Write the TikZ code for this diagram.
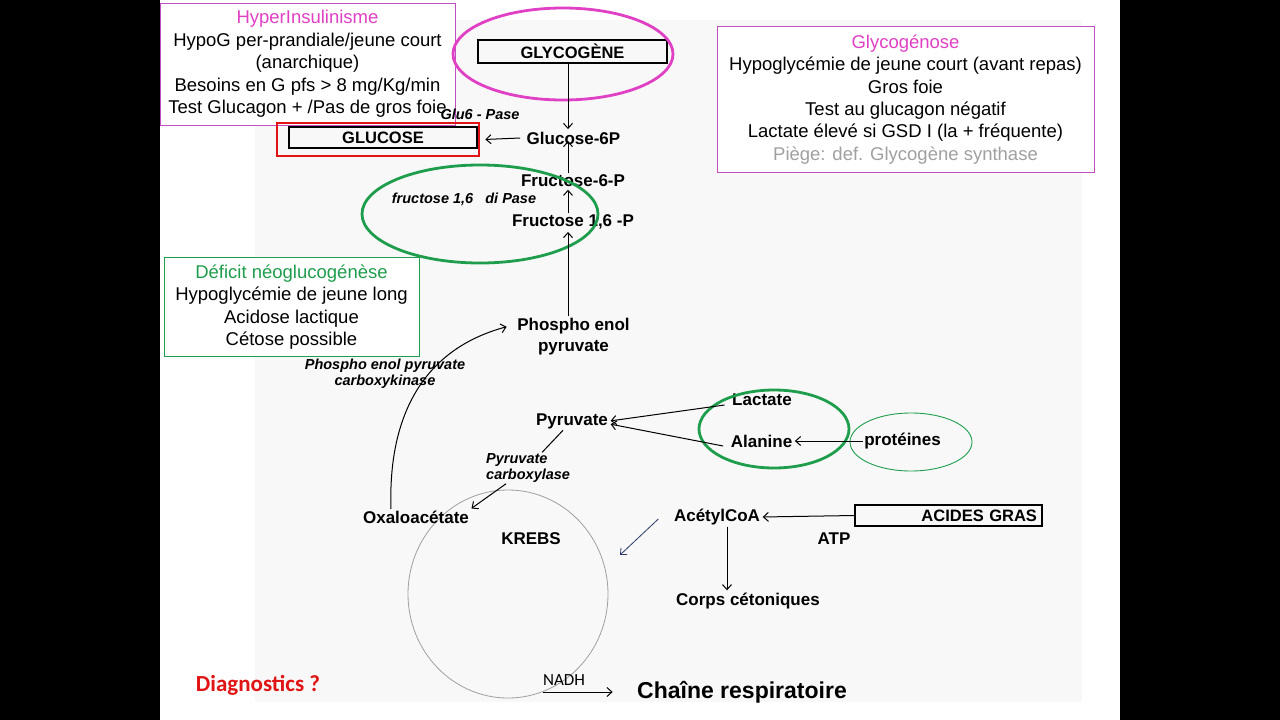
\documentclass[tikz,border=0pt]{standalone}
\usepackage{fontspec}
\setmainfont{Liberation Sans}
\newfontfamily\calibri{Carlito}
\usepackage{xcolor}
\usepackage{tikz}
\usetikzlibrary{arrows.meta}

\begin{document}
\begin{tikzpicture}[x=1pt, y=-1pt,
  encadre/.style={draw, fill=white, line width=0.8pt, align=center, inner sep=0pt,
    font=\fontsize{18.5}{22.4}\selectfont},
  scan/.style={font=\bfseries\fontsize{17}{21}\selectfont, inner sep=1.5pt, align=center},
  enzyme/.style={font=\bfseries\itshape\fontsize{14.5}{16}\selectfont, inner sep=1pt},
  boite/.style={draw, line width=1.3pt, inner sep=0pt, font=\bfseries\fontsize{16.5}{20}\selectfont},
  fleche/.style={-{Straight Barb[length=5pt, width=9pt]}, line width=1pt, shorten >=1pt},
]

% Couleurs
\definecolor{colMag}{HTML}{E040C4}
\definecolor{colBordMag}{HTML}{C24FC2}
\definecolor{colVert}{HTML}{1E9E4C}
\definecolor{colRouge}{HTML}{E01414}
\definecolor{colPiege}{HTML}{A0A0A0}
\definecolor{colScan}{HTML}{F8F8F8}
\definecolor{colKrebs}{HTML}{A0A0A0}
\definecolor{colBleu}{HTML}{2B3A67}

% Epaisseur des ellipses
\def\ep{2.8pt}

% Fond : bandes noires, diapo, scan
\useasboundingbox (0,0) rectangle (1280,720);
\fill[black] (0,0) rectangle (160,720);
\fill[black] (1120,0) rectangle (1280,720);
\fill[white] (160,0) rectangle (1120,720);
\fill[colScan] (255,20) rectangle (1082,702);

% Cycle de Krebs
\draw[colKrebs, line width=0.8pt] (508,594) ellipse [x radius=100pt, y radius=104pt];

% Encadres
\node[encadre, draw=colBordMag, minimum width=295pt, minimum height=122pt] (hyper) at (307.5,64)
  {\textcolor{colMag}{HyperInsulinisme}\\HypoG per-prandiale/jeune court\\(anarchique)\\Besoins en G pfs > 8 mg/Kg/min\\Test Glucagon + /Pas de gros foie};
\node[encadre, draw=colBordMag, minimum width=377pt, minimum height=146pt] (glycogenose) at (905.5,99.5)
  {\textcolor{colMag}{Glycogénose}\\Hypoglycémie de jeune court (avant repas)\\Gros foie\\Test au glucagon négatif\\Lactate élevé si GSD I (la + fréquente)\\\textcolor{colPiege}{Piège: def. Glycogène synthase}};
\node[encadre, draw=colVert, minimum width=255pt, minimum height=99pt] (deficit) at (291.5,307)
  {\textcolor{colVert}{Déficit néoglucogénèse}\\Hypoglycémie de jeune long\\Acidose lactique\\Cétose possible};

% Metabolites
\node[boite, minimum width=189pt, minimum height=23pt] (glycogene) at (572.5,51.5) {GLYCOGÈNE};
\node[boite, minimum width=188pt, minimum height=21pt] (glucose) at (383,137.5) {GLUCOSE};
\node[draw=colRouge, line width=2.6pt, minimum width=202pt, minimum height=33pt, inner sep=0pt] (cadreGlucose) at (378,139.5) {};
\node[scan] (g6p) at (573.5,138) {Glucose-6P};
\node[scan] (f6p) at (573,181) {Fructose-6-P};
\node[scan] (f16p) at (573,222) {Fructose 1,6 -P};
\node[scan] (pep) at (573.5,336.5) {Phospho enol\\pyruvate};
\node[scan] (pyr) at (572,421) {Pyruvate};
\node[scan] (lac) at (762,400) {Lactate};
\node[scan] (ala) at (761.5,441) {Alanine};
\node[scan] (prot) at (902.5,441) {protéines};
\node[scan] (oxa) at (416,517) {Oxaloacétate};
\node[scan] (krebs) at (531,539) {KREBS};
\node[scan] (acetyl) at (717,517) {AcétylCoA};
\node[scan] (atp) at (834,539) {ATP};
\node[scan] (corps) at (748,601) {Corps cétoniques};
\node[boite, text width=177pt, align=right, inner xsep=5pt, minimum height=21pt] (acides) at (948.5,515.5) {ACIDES GRAS};

% Enzymes
\node[enzyme] (glu6pase) at (480,114) {Glu6 - Pase};
\node[enzyme] (fdpase) at (464,199) {fructose 1,6~~~di Pase};
\node[enzyme, align=center] (pepck) at (385,374) {Phospho enol pyruvate\\carboxykinase};
\node[enzyme, align=left, anchor=west] (pc) at (485,468) {Pyruvate\\carboxylase};

% Bas de page
\node[font=\calibri\bfseries\fontsize{23}{26}\selectfont, text=colRouge] (diag) at (258,685) {Diagnostics ?};
\node[font=\calibri\fontsize{17}{20}\selectfont, inner sep=0pt] (nadh) at (564,680) {NADH};
\node[font=\bfseries\fontsize{23}{26}\selectfont] (chaine) at (742,692) {Chaîne respiratoire};

% Ellipses
\draw[colMag, line width=\ep] (563,54) ellipse [x radius=110pt, y radius=46pt];
\draw[colVert, line width=\ep] (480,214) ellipse [x radius=118pt, y radius=49pt];
\draw[colVert, line width=\ep] (774,429) ellipse [x radius=75pt, y radius=39pt];
\draw[colVert, line width=0.9pt] (911,442) ellipse [x radius=61pt, y radius=29pt];

% Fleches
\draw[fleche] ([xshift=-4.5pt]glycogene.south) -- ([xshift=-5.5pt]g6p.north);
\draw[fleche] ([xshift=-5pt]g6p.west) -- ([xshift=4pt]cadreGlucose.east);
\draw[fleche] ([xshift=-5pt]f6p.north) -- ([xshift=-5.5pt, yshift=6pt]g6p.south);
\draw[fleche] ([xshift=-5pt]f16p.north) -- ([xshift=-5pt]f6p.south);
\draw[fleche] ([xshift=-5.5pt]pep.north) -- ([xshift=-5pt]f16p.south);
\draw[fleche] ([xshift=-25pt]oxa.north) .. controls (388,420) and (420,350) .. ([shift={(-8,-10)}]pep.west);
\draw[line width=1pt] ([xshift=-9pt]pyr.south) -- ([xshift=14pt]pc.north);
\draw[fleche] ([xshift=-22pt]pc.south) -- (oxa.north east);
\draw[fleche] ([shift={(-6,5)}]lac.west) -- (pyr.east);
\draw[fleche] ([shift={(-6,5)}]ala.west) -- ([shift={(0,3)}]pyr.east);
\draw[fleche] (prot.west) -- (ala.east);
\draw[fleche] (acides.west) -- (acetyl.east);
\draw[fleche] ([xshift=10pt]acetyl.south) -- ([xshift=-21pt]corps.north);
\coordinate (versKrebs) at (620,555);
\draw[-{Straight Barb[length=5pt, width=9pt]}, colBleu, line width=0.8pt] ([shift={(-14,2)}]acetyl.west) -- (versKrebs);
\coordinate (departNadh) at (543,692);
\draw[fleche] (departNadh) -- ([xshift=-20pt]chaine.west);

\end{tikzpicture}
\end{document}
